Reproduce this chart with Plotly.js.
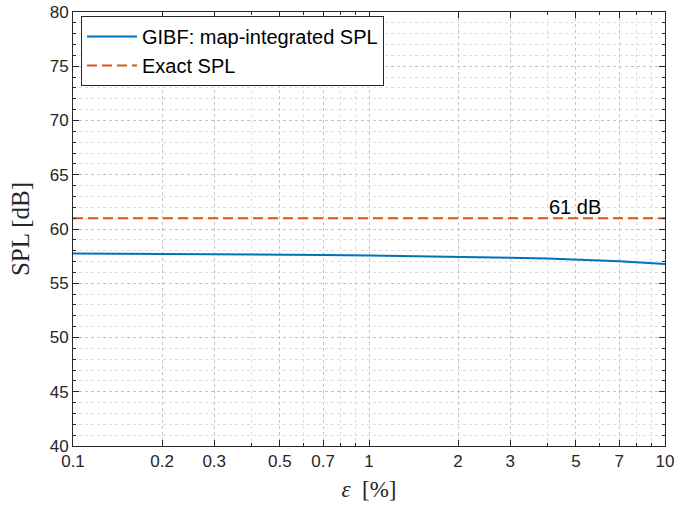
<!DOCTYPE html>
<html>
<head>
<meta charset="utf-8">
<script src="https://cdn.plot.ly/plotly-3.0.1.min.js"></script>
<style>html,body{margin:0;padding:0;background:#fff;}#chart{width:676px;height:510px;}</style>
</head>
<body>
<div id="chart"></div>
<script>
const epsilonPct = [0.1, 0.15, 0.2, 0.3, 0.5, 0.7, 1, 1.5, 2, 3, 4, 5, 7, 10];
const gibfSPL    = [57.75, 57.73, 57.71, 57.68, 57.64, 57.6, 57.56, 57.5, 57.45, 57.36, 57.28, 57.2, 57.02, 56.78];
const exactX     = [0.1, 10];
const exactSPL   = [61, 61];
const xTickVals  = [0.1, 0.2, 0.3, 0.5, 0.7, 1, 2, 3, 5, 7, 10];
const xTickText  = ['0.1', '0.2', '0.3', '0.5', '0.7', '1', '2', '3', '5', '7', '10'];
const xMinorVals = [0.4, 0.6, 0.8, 0.9, 4, 6, 8, 9];
const yTickVals  = [40, 45, 50, 55, 60, 65, 70, 75, 80];
const annX = 4, annY = 62, annText = '61 dB';

const traces = [
  {x: epsilonPct, y: gibfSPL, type: 'scatter', mode: 'lines', name: 'GIBF: map-integrated SPL',
   line: {color: '#0072BD', width: 2}},
  {x: exactX, y: exactSPL, type: 'scatter', mode: 'lines', name: 'Exact SPL',
   line: {color: '#D95319', width: 2, dash: '10px,5px'}}
];

const axisCommon = {
  showline: true, linecolor: '#262626', linewidth: 1, mirror: 'allticks',
  ticks: 'inside', ticklen: 6, tickcolor: '#262626', tickwidth: 1,
  showgrid: true, gridcolor: '#c4c4c4', griddash: 'dot', gridwidth: 1,
  zeroline: false,
  tickfont: {family: 'Liberation Sans, Arial, sans-serif', size: 17, color: '#262626'}
};

const layout = {
  width: 676, height: 510,
  margin: {l: 73, r: 11, t: 12, b: 64},
  paper_bgcolor: '#fff', plot_bgcolor: '#fff',
  showlegend: true,
  legend: {x: 0.0135, y: 0.991, xanchor: 'left', yanchor: 'top',
    bgcolor: '#fff', bordercolor: '#262626', borderwidth: 1,
    font: {family: 'Liberation Sans, Arial, sans-serif', size: 20, color: '#000'},
    tracegroupgap: 0, itemwidth: 50},
  xaxis: Object.assign({}, axisCommon, {
    type: 'log', range: [-1, 1], tickmode: 'array', tickvals: xTickVals, ticktext: xTickText,
    minor: {tickmode: 'array', tickvals: xMinorVals, ticks: 'inside', ticklen: 3, tickcolor: '#262626',
      showgrid: true, gridcolor: '#dedede', griddash: 'dot', gridwidth: 1},
    title: {text: '<i>ε</i>  [%]', font: {family: 'Liberation Serif, DejaVu Serif, serif', size: 23, color: '#262626'}, standoff: 10}
  }),
  yaxis: Object.assign({}, axisCommon, {
    range: [40, 80], tickmode: 'array', tickvals: yTickVals,
    minor: {dtick: 1, ticks: 'inside', ticklen: 3, tickcolor: '#262626',
      showgrid: true, gridcolor: '#dedede', griddash: 'dot', gridwidth: 1},
    title: {text: 'SPL [dB]', font: {family: 'Liberation Serif, DejaVu Serif, serif', size: 25, color: '#262626'}, standoff: 12}
  }),
  annotations: [{x: Math.log10(annX), y: annY, xref: 'x', yref: 'y', text: annText, showarrow: false,
    xanchor: 'left', yanchor: 'middle',
    font: {family: 'Liberation Sans, Arial, sans-serif', size: 20, color: '#000'}}]
};

Plotly.newPlot('chart', traces, layout, {displayModeBar: false, staticPlot: true});
</script>
</body>
</html>
